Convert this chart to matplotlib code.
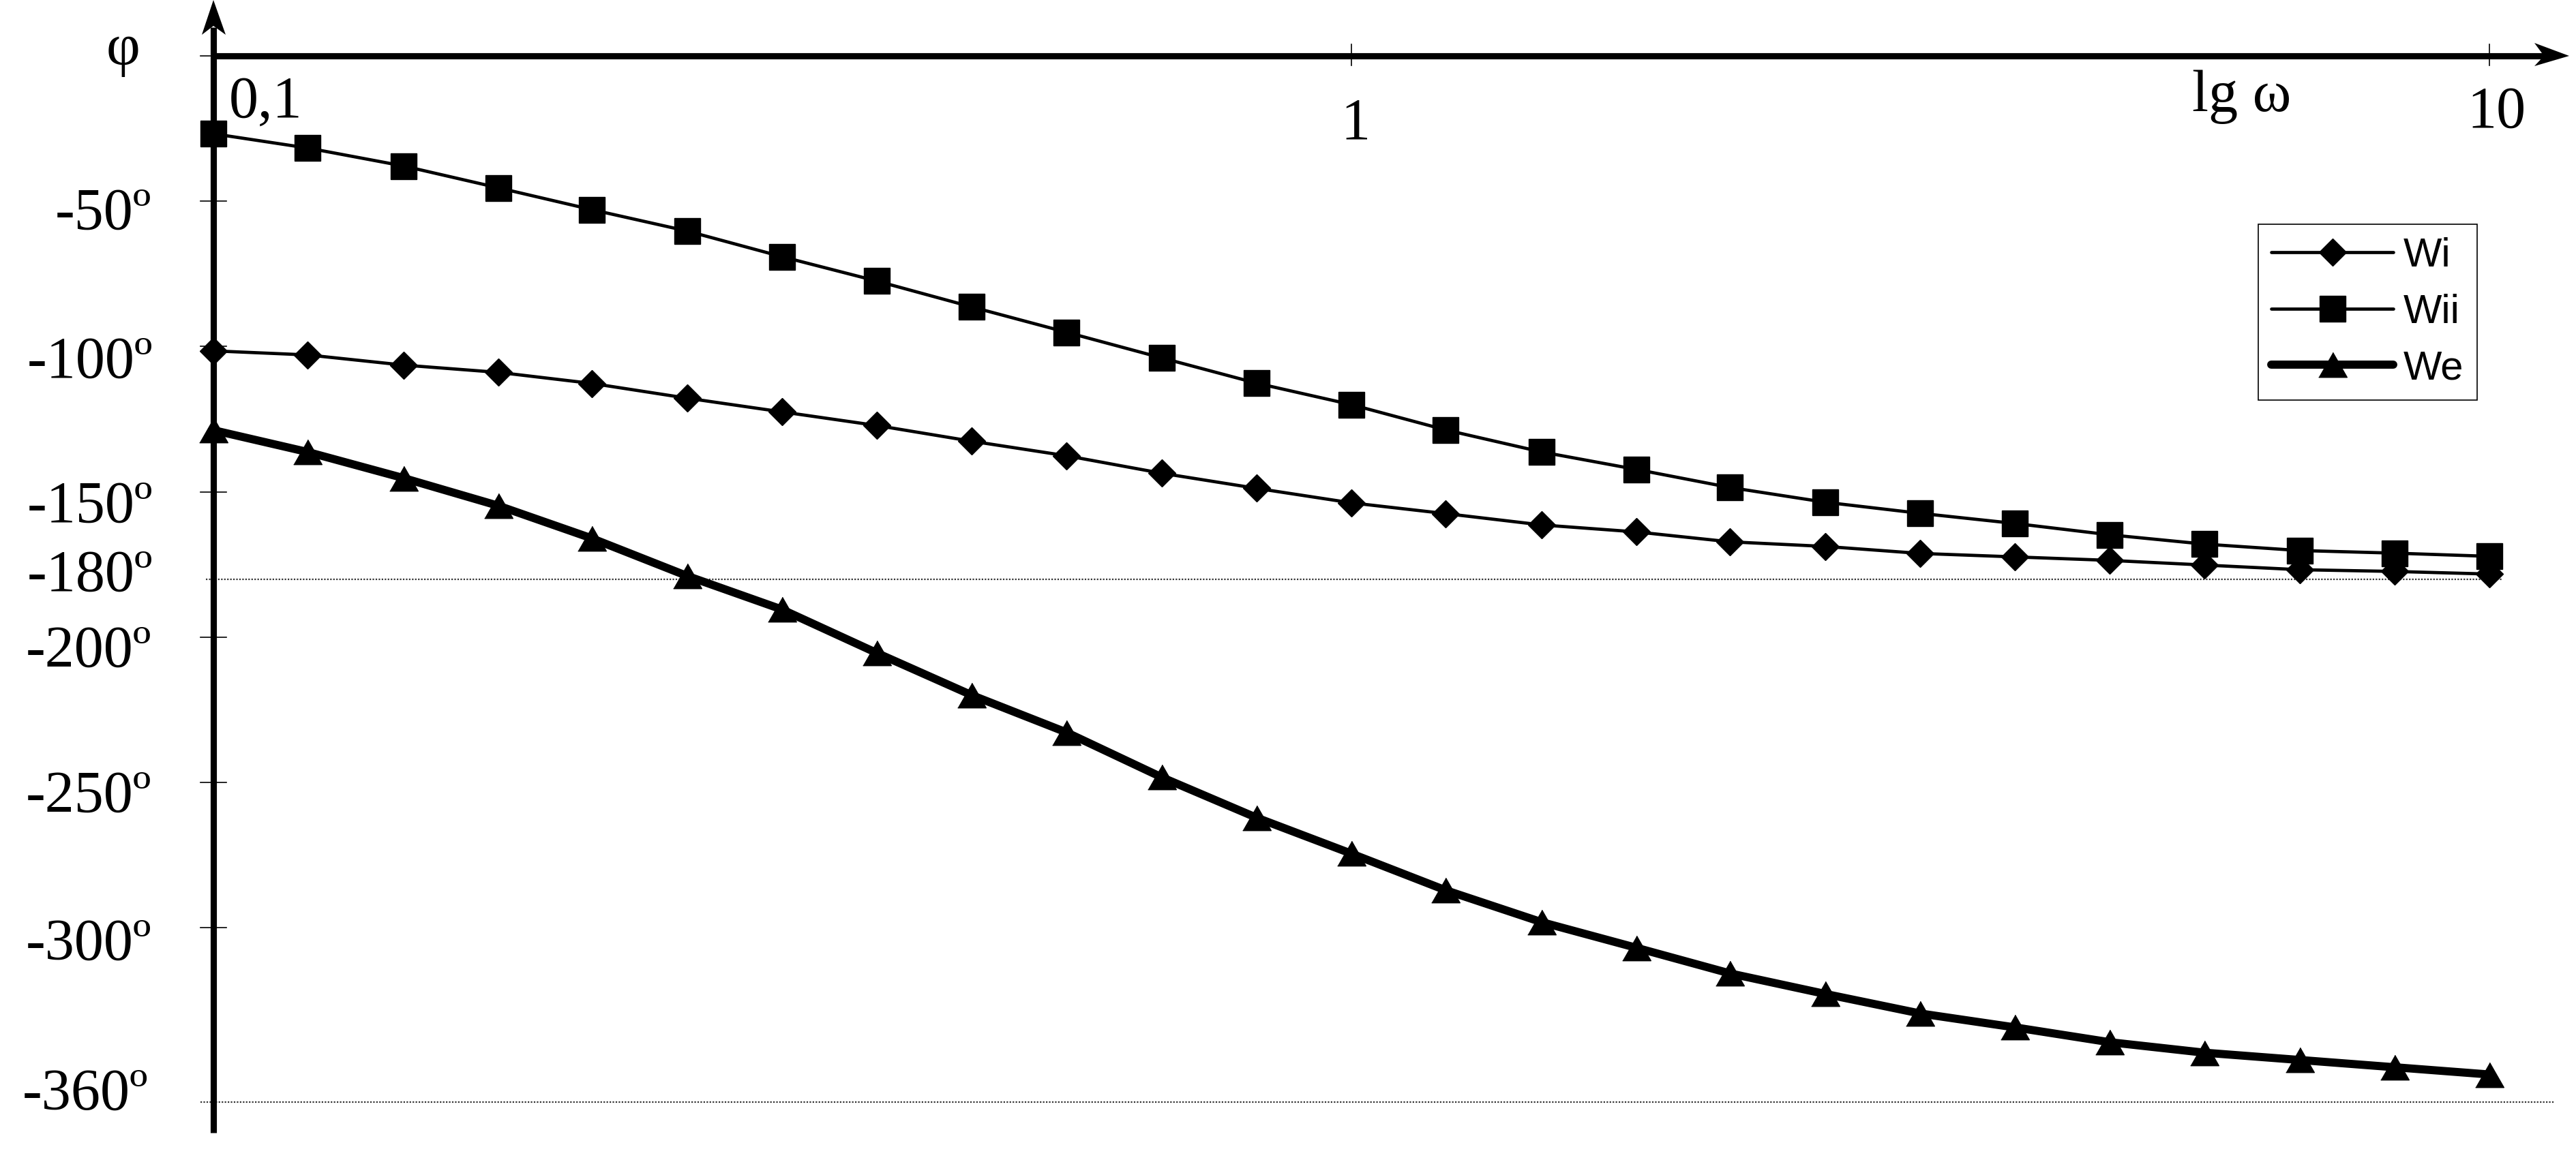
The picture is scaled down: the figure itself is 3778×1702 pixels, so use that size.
import matplotlib
matplotlib.use('Agg')
import matplotlib.pyplot as plt
from matplotlib.patches import Polygon

# ── data: phase vs frequency (lg scale), 12 points per decade ───────────────
omega = [0.1, 0.121, 0.147, 0.178, 0.215, 0.261, 0.316, 0.383, 0.464, 0.562,
         0.681, 0.825, 1.0, 1.21, 1.47, 1.78, 2.15, 2.61, 3.16, 3.83,
         4.64, 5.62, 6.81, 8.25, 10.0]

phi_wi = [-101.5, -102.9, -106.4, -108.9, -112.7, -117.8, -122.5, -127.2,
          -132.6, -137.6, -143.6, -148.8, -153.8, -157.5, -161.4, -163.8,
          -167.2, -168.8, -171.2, -172.4, -173.6, -175.2, -176.8, -177.4, -178.3]

phi_wii = [-26.8, -31.7, -37.9, -45.4, -52.9, -60.3, -69.1, -77.5,
           -86.4, -95.1, -103.9, -112.6, -120.0, -128.7, -136.3, -142.3,
           -148.5, -153.6, -157.4, -160.9, -164.8, -168.0, -170.2, -171.1, -172.2]

phi_we = [-128.8, -136.3, -145.3, -154.8, -166.0, -179.0, -190.5, -205.5,
          -220.0, -232.8, -248.2, -262.1, -274.5, -287.1, -298.1, -306.9,
          -315.7, -322.8, -329.5, -334.3, -339.4, -343.0, -345.5, -348.0, -350.5]

y_labels = ['-50º', '-100º', '-150º', '-180º', '-200º', '-250º', '-300º', '-360º']
y_ticks = [0, -50, -100, -150, -200, -250, -300]
ref_lines = [-180, -360]
x_labels = ['0,1', '1', '10']
x_ticks = [1, 10]
series_names = ['Wi', 'Wii', 'We']

# ── figure geometry (pixels of the 3778x1702 output) ────────────────────────
W, H, DPI = 3778, 1702, 200
X0, DEC = 313, 1669        # pixel of w=0.1, pixels per decade
Y0, PPD = 82, 4.264        # pixel of phi=0, pixels per degree

def X(px):
    return 10 ** (-1 + (px - X0) / DEC)

def Y(py):
    return -(py - Y0) / PPD

SERIF = 'Liberation Serif'
SANS = 'Liberation Sans'
FS = 31

fig = plt.figure(figsize=(W / DPI, H / DPI), dpi=DPI)
ax = fig.add_axes([0, 0, 1, 1])
ax.set_xscale('log')
ax.set_xlim(X(0), X(W))
ax.set_ylim(Y(H), Y(0))
ax.axis('off')

# ── axes drawn by hand (arrows) ─────────────────────────────────────────────
AX_LW = 3.3
ax.plot([0.1, 0.1], [Y(1662), Y(40)], color='k', lw=AX_LW, solid_capstyle='butt', zorder=2)
ax.plot([X(310), X(3735)], [0, 0], color='k', lw=AX_LW, solid_capstyle='butt', zorder=2)
ax.add_patch(Polygon([(0.1, Y(0)), (X(331), Y(51)), (0.1, Y(38)), (X(296), Y(51))],
                     closed=True, color='k', lw=0, zorder=2))
ax.add_patch(Polygon([(X(3768), 0), (X(3717), Y(63)), (X(3731), 0), (X(3717), Y(97))],
                     closed=True, color='k', lw=0, zorder=2))

# small ticks
for t in y_ticks:
    right = 313 if t == 0 else 332
    ax.plot([X(294), X(right)], [t, t], color='k', lw=0.6, zorder=2)
for t in x_ticks:
    ax.plot([t, t], [Y(65), Y(96)], color='k', lw=0.6, zorder=2)

# dotted reference lines at -180 and -360
ax.plot([X(302), X(3670)], [ref_lines[0]] * 2, color='#333333', lw=0.8,
        ls=(0, (1, 1)), zorder=1)
ax.plot([X(294), X(3747)], [ref_lines[1]] * 2, color='#333333', lw=0.8,
        ls=(0, (1, 1)), zorder=1)

# ── series ──────────────────────────────────────────────────────────────────
tri = [(-1, -0.875), (1, -0.875), (0, 0.875)]
ax.plot(omega, phi_wi, color='k', lw=1.7, marker='D', ms=10, mew=0.5,
        solid_capstyle='round', label=series_names[0], zorder=4)
ax.plot(omega, phi_wii, color='k', lw=1.7, marker='s', ms=14, mew=0.5,
        solid_capstyle='round', label=series_names[1], zorder=4)
ax.plot(omega, phi_we, color='k', lw=4.3, marker=tri, ms=15, mew=0.5,
        solid_capstyle='round', label=series_names[2], zorder=4)

# ── text labels ─────────────────────────────────────────────────────────────
lab_base = [336, 554, 766, 867, 978, 1191, 1408, 1628]
lab_right = [222, 224, 224, 224, 222, 222, 222, 217]
for s, b, r in zip(y_labels, lab_base, lab_right):
    ax.text(X(r), Y(b), s, ha='right', va='baseline', family=SERIF, fontsize=FS)

ax.text(X(180), Y(73), 'φ', ha='center', va='center', family=SERIF, fontsize=FS)
ax.text(X(336), Y(172), x_labels[0], ha='left', va='baseline', family=SERIF, fontsize=FS)
ax.text(X(1988), Y(204), x_labels[1], ha='center', va='baseline', family=SERIF, fontsize=FS)
ax.text(X(3661), Y(187), x_labels[2], ha='center', va='baseline', family=SERIF, fontsize=FS)
ax.text(X(3215), Y(163), 'lg ω', ha='left', va='baseline', family=SERIF, fontsize=FS)

# ── legend ──────────────────────────────────────────────────────────────────
leg = ax.legend(loc='upper left', bbox_to_anchor=(3312 / W, 1 - 329 / H),
                borderaxespad=0, numpoints=1, handlelength=3.0, handletextpad=0.25,
                borderpad=0.32, labelspacing=0.46, fancybox=False, framealpha=1,
                edgecolor='k', prop={'family': SANS, 'size': 21.5})
leg.get_frame().set_linewidth(0.6)

fig.savefig('out.png', dpi=DPI, facecolor='white')
